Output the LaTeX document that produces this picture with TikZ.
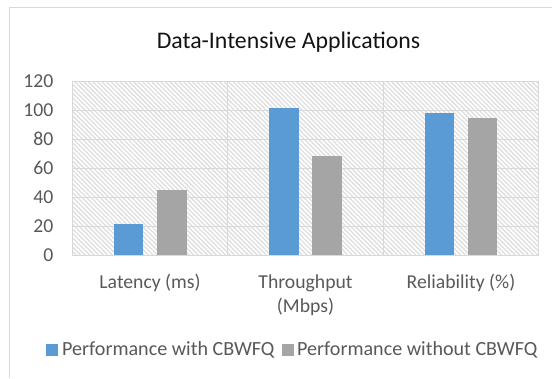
\documentclass[tikz,border=0pt]{standalone}
\usepackage{fontspec}
\setmainfont{Carlito}
\usetikzlibrary{patterns.meta}
\definecolor{barblue}{HTML}{5B9BD5}
\definecolor{bargray}{HTML}{A5A5A5}
\definecolor{gridc}{HTML}{D9D9D9}
\definecolor{hatchc}{HTML}{DEDEDE}
\definecolor{axtext}{HTML}{595959}
\begin{document}
\begin{tikzpicture}[x=1pt,y=-1pt,
  axlabel/.style={font=\fontsize{19.7}{24.4}\selectfont, text=axtext, inner sep=0pt},
  legstyle/.style={font=\fontsize{20.1}{24.4}\selectfont, text=axtext, inner sep=0pt},
  titlestyle/.style={font=\fontsize{23.8}{28}\selectfont, text=black!92, inner sep=0pt},
  gridline/.style={draw=gridc, line width=1pt},
  bluebar/.style={fill=barblue},
  graybar/.style={fill=bargray}]
\useasboundingbox (0,0) rectangle (552,378);
\fill[white] (0,0) rectangle (552,378);
% chart area border
\draw[gridc, line width=1pt] (9.5,378) -- (9.5,7.5) -- (552,7.5);
% plot area hatch
\fill[pattern={Lines[angle=-45,distance=3.2pt,line width=1.3pt]}, pattern color=hatchc]
  (72.3,81.5) rectangle (538.7,255);
% horizontal gridlines
\foreach \k in {0,...,6}
  \draw[gridline] (72.3,{255-28.917*\k}) -- (538.7,{255-28.917*\k});
% vertical category lines
\foreach \x in {72.3,227.8,383.3,538.7}
  \draw[gridline] (\x,81.5) -- (\x,255);
% bars
\def\ys{1.4458}
\fill[bluebar] (113.5,255) rectangle (143.2,{255-\ys*21.6});
\fill[graybar] (156.7,255) rectangle (186.5,{255-\ys*44.8});
\fill[bluebar] (269.0,255) rectangle (298.7,{255-\ys*101.6});
\fill[graybar] (312.2,255) rectangle (341.9,{255-\ys*68.3});
\fill[bluebar] (424.5,255) rectangle (454.2,{255-\ys*98.5});
\fill[graybar] (467.7,255) rectangle (497.4,{255-\ys*95.1});
% y axis labels
\foreach \k/\v in {0/0,1/20,2/40,3/60,4/80,5/100,6/120}
  \node[axlabel, anchor=east] (ylab\v) at (53.5,{255-28.917*\k}) {\v};
% x axis labels
\node[axlabel, anchor=base] (xlat) at (150.05,288.3) {Latency (ms)};
\node[axlabel, anchor=base] (xthr) at (305.5,288.3) {Throughput};
\node[axlabel, anchor=base] (xmbps) at (305.5,312.7) {(Mbps)};
\node[axlabel, anchor=base] (xrel) at (461.0,288.3) {Reliability (\%)};
% title
\node[titlestyle, anchor=base] (title) at (288.5,48.5) {Data-Intensive Applications};
% legend
\fill[bluebar] (46,344) rectangle (58,356);
\node[legstyle, anchor=base west] (leg1) at (62,355.7) {Performance with CBWFQ};
\fill[graybar] (281.5,344) rectangle (293.5,356);
\node[legstyle, anchor=base west] (leg2) at (297,355.7) {Performance without CBWFQ};
\end{tikzpicture}
\end{document}
